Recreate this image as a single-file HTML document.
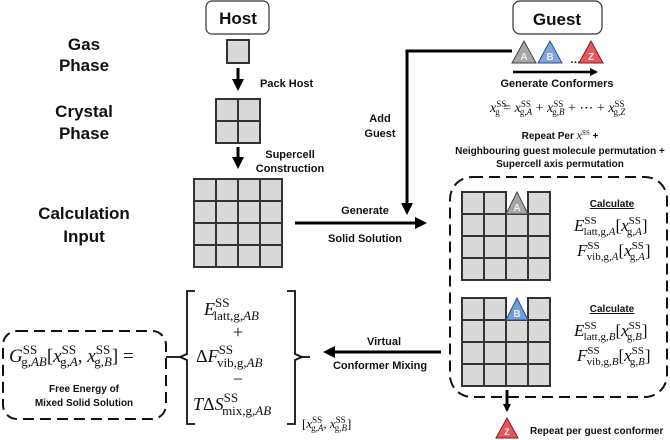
<!DOCTYPE html>
<html><head><meta charset="utf-8"><style>
html,body{margin:0;padding:0;background:#fff}
svg{display:block}
.b{font-family:"Liberation Sans",sans-serif;font-weight:bold;fill:#111}
.m{font-family:"Liberation Serif",serif;fill:#111}
.i{font-style:italic}
.c{fill:#d9d9d9;stroke:#333;stroke-width:2}
</style></head><body>
<svg width="670" height="440" viewBox="0 0 670 440" xmlns="http://www.w3.org/2000/svg">
<defs>
<marker id="ah" markerWidth="8" markerHeight="8" refX="6" refY="4" orient="auto" markerUnits="userSpaceOnUse">
<path d="M0,0 L8,4 L0,8 Z" fill="#000"/></marker>
<marker id="ah2" markerWidth="12" markerHeight="12" refX="9" refY="6" orient="auto" markerUnits="userSpaceOnUse">
<path d="M0,0 L12,6 L0,12 Z" fill="#000"/></marker>
</defs>

<g class="b" font-size="17" text-anchor="middle">
<text x="84" y="50">Gas</text><text x="84" y="71">Phase</text>
<text x="84" y="117">Crystal</text><text x="84" y="139">Phase</text>
<text x="84" y="219">Calculation</text><text x="84" y="242">Input</text>
</g>

<rect x="206" y="1" width="63" height="33" rx="6" fill="#fff" stroke="#333" stroke-width="1.2"/>
<text class="b" x="238" y="24" font-size="17" text-anchor="middle">Host</text>
<rect x="227" y="40" width="22" height="23" class="c"/>
<line x1="238" y1="68" x2="238" y2="88" stroke="#000" stroke-width="3" marker-end="url(#ah2)"/>
<text class="b" x="260" y="87" font-size="11">Pack Host</text>
<g>
<rect x="216" y="99" width="22" height="22" class="c"/><rect x="238" y="99" width="22" height="22" class="c"/>
<rect x="216" y="121" width="22" height="22" class="c"/><rect x="238" y="121" width="22" height="22" class="c"/>
</g>
<line x1="238" y1="147" x2="238" y2="166" stroke="#000" stroke-width="3" marker-end="url(#ah2)"/>
<text class="b" x="290" y="158" font-size="11" text-anchor="middle">Supercell</text>
<text class="b" x="290" y="172" font-size="11" text-anchor="middle">Construction</text>
<g>
<rect x="194" y="179" width="22" height="22" class="c"/><rect x="216" y="179" width="22" height="22" class="c"/><rect x="238" y="179" width="22" height="22" class="c"/><rect x="260" y="179" width="22" height="22" class="c"/>
<rect x="194" y="201" width="22" height="22" class="c"/><rect x="216" y="201" width="22" height="22" class="c"/><rect x="238" y="201" width="22" height="22" class="c"/><rect x="260" y="201" width="22" height="22" class="c"/>
<rect x="194" y="223" width="22" height="22" class="c"/><rect x="216" y="223" width="22" height="22" class="c"/><rect x="238" y="223" width="22" height="22" class="c"/><rect x="260" y="223" width="22" height="22" class="c"/>
<rect x="194" y="245" width="22" height="22" class="c"/><rect x="216" y="245" width="22" height="22" class="c"/><rect x="238" y="245" width="22" height="22" class="c"/><rect x="260" y="245" width="22" height="22" class="c"/>
</g>

<line x1="295" y1="223" x2="424" y2="223" stroke="#000" stroke-width="3" marker-end="url(#ah2)"/>
<text class="b" x="365" y="214" font-size="11" text-anchor="middle">Generate</text>
<text class="b" x="365" y="242" font-size="11" text-anchor="middle">Solid Solution</text>

<polyline points="512,51 407,51 407,206" fill="none" stroke="#000" stroke-width="3"/>
<line x1="407" y1="200" x2="407" y2="212" stroke="#000" stroke-width="3" marker-end="url(#ah2)"/>
<text class="b" x="380" y="122" font-size="11" text-anchor="middle">Add</text>
<text class="b" x="380" y="137" font-size="11" text-anchor="middle">Guest</text>

<rect x="513" y="1" width="89" height="33" rx="7" fill="#fff" stroke="#333" stroke-width="1.2"/>
<text class="b" x="557" y="25" font-size="17" text-anchor="middle">Guest</text>
<polygon points="524,41 512,63 536,63" fill="#a6a6a6" stroke="#444" stroke-width="1"/>
<text class="b" x="524" y="60" font-size="10" text-anchor="middle" style="fill:#eee">A</text>
<polygon points="550,41 538,63 562,63" fill="#7da6dc" stroke="#2e4f80" stroke-width="1"/>
<text class="b" x="550" y="60" font-size="10" text-anchor="middle" style="fill:#eee">B</text>
<text class="b" x="570" y="63" font-size="11">…</text>
<polygon points="591,41 579,63 603,63" fill="#e8555b" stroke="#7a2020" stroke-width="1"/>
<text class="b" x="591" y="60" font-size="10" text-anchor="middle" style="fill:#eee">Z</text>
<line x1="513" y1="72" x2="596" y2="72" stroke="#000" stroke-width="2.5" marker-end="url(#ah)"/>
<text class="b" x="557" y="87" font-size="11" text-anchor="middle">Generate Conformers</text>

<text class="m" x="490" y="112" font-size="14"><tspan class="i">x</tspan><tspan font-size="9" dy="-5">SS</tspan><tspan font-size="9" dx="-11" dy="8">g</tspan><tspan dy="-3">  =  </tspan><tspan class="i">x</tspan><tspan font-size="9" dy="-5">SS</tspan><tspan font-size="9" dx="-11" dy="8">g,</tspan><tspan font-size="9" class="i">A</tspan><tspan dy="-3"> + </tspan><tspan class="i">x</tspan><tspan font-size="9" dy="-5">SS</tspan><tspan font-size="9" dx="-11" dy="8">g,</tspan><tspan font-size="9" class="i">B</tspan><tspan dy="-3"> + ⋯ + </tspan><tspan class="i">x</tspan><tspan font-size="9" dy="-5">SS</tspan><tspan font-size="9" dx="-11" dy="8">g,</tspan><tspan font-size="9" class="i">Z</tspan></text>

<text class="b" x="560" y="139" font-size="10" text-anchor="middle">Repeat Per <tspan class="m i" font-weight="normal" font-size="12">x</tspan><tspan class="m" font-weight="normal" font-size="7" dy="-4">SS</tspan><tspan dy="4"> +</tspan></text>
<text class="b" x="560" y="154" font-size="10" text-anchor="middle">Neighbouring guest molecule permutation +</text>
<text class="b" x="560" y="167" font-size="10" text-anchor="middle">Supercell axis permutation</text>

<rect x="450" y="177" width="217" height="220" rx="22" fill="none" stroke="#111" stroke-width="2" stroke-dasharray="11,6"/>

<g transform="translate(462,192)">
<rect x="0" y="0" width="22" height="22" class="c"/><rect x="22" y="0" width="22" height="22" class="c"/><rect x="66" y="0" width="22" height="22" class="c"/>
<rect x="0" y="22" width="22" height="22" class="c"/><rect x="22" y="22" width="22" height="22" class="c"/><rect x="44" y="22" width="22" height="22" class="c"/><rect x="66" y="22" width="22" height="22" class="c"/>
<rect x="0" y="44" width="22" height="22" class="c"/><rect x="22" y="44" width="22" height="22" class="c"/><rect x="44" y="44" width="22" height="22" class="c"/><rect x="66" y="44" width="22" height="22" class="c"/>
<rect x="0" y="66" width="22" height="22" class="c"/><rect x="22" y="66" width="22" height="22" class="c"/><rect x="44" y="66" width="22" height="22" class="c"/><rect x="66" y="66" width="22" height="22" class="c"/>
<polygon points="55,0 44,22 66,22" fill="#a6a6a6" stroke="#444" stroke-width="1"/>
<text class="b" x="55" y="19" font-size="10" text-anchor="middle" style="fill:#eee">A</text>
</g>
<g transform="translate(462,298)">
<rect x="0" y="0" width="22" height="22" class="c"/><rect x="22" y="0" width="22" height="22" class="c"/><rect x="66" y="0" width="22" height="22" class="c"/>
<rect x="0" y="22" width="22" height="22" class="c"/><rect x="22" y="22" width="22" height="22" class="c"/><rect x="44" y="22" width="22" height="22" class="c"/><rect x="66" y="22" width="22" height="22" class="c"/>
<rect x="0" y="44" width="22" height="22" class="c"/><rect x="22" y="44" width="22" height="22" class="c"/><rect x="44" y="44" width="22" height="22" class="c"/><rect x="66" y="44" width="22" height="22" class="c"/>
<rect x="0" y="66" width="22" height="22" class="c"/><rect x="22" y="66" width="22" height="22" class="c"/><rect x="44" y="66" width="22" height="22" class="c"/><rect x="66" y="66" width="22" height="22" class="c"/>
<polygon points="55,0 44,22 66,22" fill="#6f9edb" stroke="#2e4f80" stroke-width="1"/>
<text class="b" x="55" y="19" font-size="10" text-anchor="middle" style="fill:#eee">B</text>
</g>

<text class="b" x="612" y="207" font-size="10" text-anchor="middle" text-decoration="underline">Calculate</text>
<text class="m" x="574" y="231" font-size="17"><tspan class="i">E</tspan><tspan font-size="11" dy="-7">SS</tspan><tspan font-size="11" dx="-13" dy="11">latt,g,</tspan><tspan font-size="11" class="i">A</tspan><tspan dy="-4">[</tspan><tspan class="i">x</tspan><tspan font-size="11" dy="-7">SS</tspan><tspan font-size="11" dx="-14" dy="11">g,</tspan><tspan font-size="11" class="i">A</tspan><tspan dy="-4">]</tspan></text>
<text class="m" x="577" y="256" font-size="17"><tspan class="i">F</tspan><tspan font-size="11" dy="-7">SS</tspan><tspan font-size="11" dx="-13" dy="11">vib,g,</tspan><tspan font-size="11" class="i">A</tspan><tspan dy="-4">[</tspan><tspan class="i">x</tspan><tspan font-size="11" dy="-7">SS</tspan><tspan font-size="11" dx="-14" dy="11">g,</tspan><tspan font-size="11" class="i">A</tspan><tspan dy="-4">]</tspan></text>
<text class="b" x="612" y="312" font-size="10" text-anchor="middle" text-decoration="underline">Calculate</text>
<text class="m" x="574" y="336" font-size="17"><tspan class="i">E</tspan><tspan font-size="11" dy="-7">SS</tspan><tspan font-size="11" dx="-13" dy="11">latt,g,</tspan><tspan font-size="11" class="i">B</tspan><tspan dy="-4">[</tspan><tspan class="i">x</tspan><tspan font-size="11" dy="-7">SS</tspan><tspan font-size="11" dx="-14" dy="11">g,</tspan><tspan font-size="11" class="i">B</tspan><tspan dy="-4">]</tspan></text>
<text class="m" x="577" y="361" font-size="17"><tspan class="i">F</tspan><tspan font-size="11" dy="-7">SS</tspan><tspan font-size="11" dx="-13" dy="11">vib,g,</tspan><tspan font-size="11" class="i">B</tspan><tspan dy="-4">[</tspan><tspan class="i">x</tspan><tspan font-size="11" dy="-7">SS</tspan><tspan font-size="11" dx="-14" dy="11">g,</tspan><tspan font-size="11" class="i">B</tspan><tspan dy="-4">]</tspan></text>

<line x1="507" y1="390" x2="507" y2="410" stroke="#000" stroke-width="3" marker-end="url(#ah)"/>
<polygon points="507,418 496,438 518,438" fill="#e8555b" stroke="#7a2020" stroke-width="1"/>
<text class="b" x="507" y="435" font-size="9" text-anchor="middle" style="fill:#eee">Z</text>
<text class="b" x="530" y="434" font-size="10">Repeat per guest conformer</text>

<line x1="441" y1="352" x2="326" y2="352" stroke="#000" stroke-width="3" marker-end="url(#ah2)"/>
<text class="b" x="384" y="345" font-size="11" text-anchor="middle">Virtual</text>
<text class="b" x="380" y="369" font-size="11" text-anchor="middle">Conformer Mixing</text>

<path d="M195,291 L187,291 L187,354 L180,357 L187,360 L187,424 L195,424" fill="none" stroke="#111" stroke-width="1.8"/>
<path d="M287,291 L295,291 L295,354 L302,357 L295,360 L295,424 L287,424" fill="none" stroke="#111" stroke-width="1.8"/>
<line x1="166" y1="357" x2="180" y2="357" stroke="#111" stroke-width="1.8"/>
<line x1="302" y1="357" x2="310" y2="357" stroke="#111" stroke-width="1.8"/>
<text class="m" x="204" y="315" font-size="18"><tspan class="i">E</tspan><tspan font-size="13" dy="-8">SS</tspan><tspan font-size="13" dx="-16" dy="13">latt,g,</tspan><tspan font-size="13" class="i">AB</tspan></text>
<text class="m" x="238" y="338" font-size="18" text-anchor="middle">+</text>
<text class="m" x="196" y="362" font-size="18">Δ<tspan class="i">F</tspan><tspan font-size="13" dy="-8">SS</tspan><tspan font-size="13" dx="-16" dy="13">vib,g,</tspan><tspan font-size="13" class="i">AB</tspan></text>
<text class="m" x="238" y="385" font-size="18" text-anchor="middle">−</text>
<text class="m" x="193" y="410" font-size="18"><tspan class="i">T</tspan>Δ<tspan class="i">S</tspan><tspan font-size="13" dy="-8">SS</tspan><tspan font-size="13" dx="-16" dy="13">mix,g,</tspan><tspan font-size="13" class="i">AB</tspan></text>
<text class="m" x="302" y="428" font-size="13">[<tspan class="i">x</tspan><tspan font-size="9" dy="-5">SS</tspan><tspan font-size="9" dx="-11" dy="8">g,</tspan><tspan font-size="9" class="i">A</tspan><tspan dy="-3">, </tspan><tspan class="i">x</tspan><tspan font-size="9" dy="-5">SS</tspan><tspan font-size="9" dx="-11" dy="8">g,</tspan><tspan font-size="9" class="i">B</tspan><tspan dy="-3">]</tspan></text>

<rect x="3" y="331" width="163" height="88" rx="14" fill="none" stroke="#111" stroke-width="2" stroke-dasharray="11,6"/>
<text class="m" x="9" y="362" font-size="19"><tspan class="i">G</tspan><tspan font-size="13" dy="-8">SS</tspan><tspan font-size="13" dx="-16" dy="12">g,</tspan><tspan font-size="13" class="i">AB</tspan><tspan dy="-4">[</tspan><tspan class="i">x</tspan><tspan font-size="13" dy="-8">SS</tspan><tspan font-size="13" dx="-16" dy="12">g,</tspan><tspan font-size="13" class="i">A</tspan><tspan dy="-4">, </tspan><tspan class="i">x</tspan><tspan font-size="13" dy="-8">SS</tspan><tspan font-size="13" dx="-16" dy="12">g,</tspan><tspan font-size="13" class="i">B</tspan><tspan dy="-4">] =</tspan></text>
<text class="b" x="84" y="392" font-size="10" text-anchor="middle">Free Energy of</text>
<text class="b" x="84" y="406" font-size="10" text-anchor="middle">Mixed Solid Solution</text>
</svg>
</body></html>
